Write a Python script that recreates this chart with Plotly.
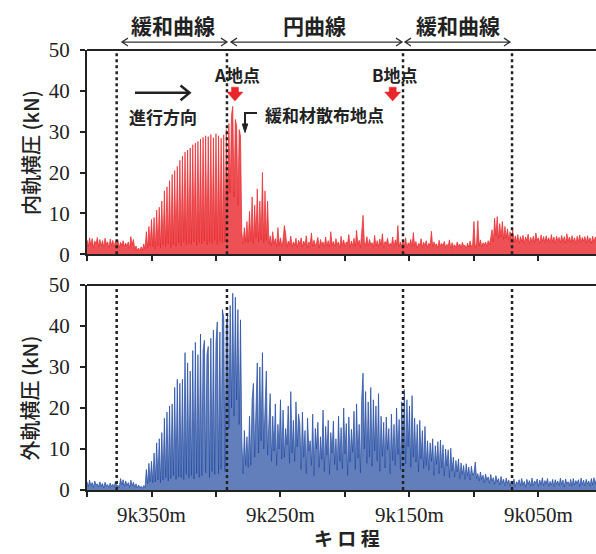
import plotly.graph_objects as go

# ---------------- data (kN), one sample per metre from 9k400m towards 9k005m ----------------
start_m = 9400

inner_rail_kN = [
    # 9k400 - 9k355 : quiet section
    3.5,1.8,4.0,2.2,3.8,1.6,3.2,2.5,4.1,1.9,3.6,2.0,3.3,1.7,3.9,2.4,3.0,1.5,3.7,2.1,
    3.4,1.8,3.1,2.6,3.5,1.6,2.9,2.2,3.3,1.9,2.7,2.0,3.0,1.4,4.3,2.3,3.6,1.2,2.0,0.9,
    1.5,0.8,1.8,1.0,2.5,1.3,
    # rise in transition curve
    5.5,1.5,6.8,2.0,8.5,1.8,9.0,
    1.2,10.8,2.0,11.5,1.5,13.0,
    2.2,15.5,1.8,16.5,2.5,
    18.0,1.6,19.5,2.4,20.5,1.9,21.5,2.8,
    23.0,2.0,24.0,3.0,25.0,2.2,25.5,2.6,
    26.0,2.4,26.8,3.0,27.2,2.1,27.6,2.8,
    28.2,2.5,28.6,3.2,29.0,2.3,28.8,3.0,29.3,2.6,28.5,3.4,29.5,2.4,29.0,3.1,28.4,2.7,29.2,3.0,
    # point A
    30.5,12.0,32.0,15.0,34.0,36.2,14.0,33.0,31.5,12.0,30.5,29.0,
    # after lubricant
    5.5,2.5,6.5,3.0,8.0,2.8,
    10.5,3.2,14.0,2.6,12.0,4.0,16.0,3.0,13.0,3.5,20.0,2.8,15.5,3.4,13.0,2.5,
    4.5,2.0,5.5,2.5,3.8,1.8,6.5,2.2,4.0,1.9,3.5,7.0,5.0,1.7,3.2,2.4,4.4,1.8,3.0,2.2,3.9,1.6,3.4,
    # circular curve
    2.5,4.0,1.8,3.2,2.2,4.5,1.6,3.0,2.4,5.2,1.9,3.4,2.1,2.8,4.1,1.5,3.6,2.3,3.0,1.8,
    4.2,2.0,3.3,1.7,5.5,2.2,3.1,1.9,3.8,2.5,2.9,1.6,4.4,2.1,3.5,1.8,3.0,2.6,4.8,1.7,
    3.2,2.0,3.9,1.8,5.8,2.3,3.4,1.6,6.0,9.5,3.0,2.2,4.3,1.9,3.6,2.4,2.8,1.7,4.6,2.0,
    3.3,1.8,3.7,2.2,5.0,1.6,3.1,2.5,3.9,1.9,2.7,2.1,4.2,1.7,3.5,2.3,7.0,1.8,3.0,2.0,
    # exit transition curve
    3.4,1.9,4.0,1.6,2.8,2.2,3.6,1.8,5.3,2.0,3.1,1.5,2.6,2.3,3.8,1.7,2.9,2.1,3.3,1.6,
    2.7,2.0,5.6,1.8,3.0,2.2,2.5,1.5,3.4,1.9,2.6,2.1,3.1,1.6,2.4,2.0,3.5,1.4,2.8,1.9,
    2.3,1.6,3.0,1.8,2.5,1.5,2.9,2.0,2.2,1.4,2.7,1.7,3.2,1.8,2.4,8.0,1.6,2.6,8.2,2.0,
    3.5,1.8,2.8,2.2,3.0,1.9,3.3,2.4,4.0,6.0,3.0,8.8,4.5,9.2,3.8,7.5,4.2,8.0,3.6,6.8,
    4.0,6.2,3.5,5.5,3.2,6.0,2.8,4.5,3.0,4.8,2.6,4.3,3.1,4.6,2.7,4.2,3.3,4.9,2.5,4.1,
    # tangent
    3.0,4.4,2.8,5.2,3.4,4.0,2.6,4.7,3.1,4.3,2.9,4.5,3.2,4.0,2.7,4.8,3.0,4.2,2.6,4.4,
    3.3,4.1,2.8,4.6,3.0,4.3,2.7,5.0,3.2,4.2,2.9,4.5,3.1,4.0,2.6,4.4,3.0,4.7,2.8,4.1,
    3.2,4.3,2.7,4.5,3.0,4.0,2.6,4.4,2.9,4.2,3.1,
]

outer_rail_kN = [
    2.0,0.8,2.4,1.0,1.8,0.6,2.2,1.2,1.5,0.7,2.0,0.9,1.6,0.5,1.9,1.1,1.3,0.6,1.7,0.8,
    1.4,0.7,2.0,1.0,1.2,0.5,2.8,1.3,2.5,0.9,2.2,1.1,1.8,0.6,2.4,1.0,1.9,0.7,1.5,0.5,
    1.2,0.6,0.9,0.4,1.1,0.6,
    5.0,1.5,6.5,2.0,7.0,1.8,9.0,
    2.0,11.5,2.5,12.5,1.8,14.0,
    2.4,17.5,3.0,19.0,2.2,
    20.5,2.8,21.0,3.5,25.0,2.6,27.0,3.2,
    26.0,3.0,27.0,2.5,33.5,3.8,31.0,2.9,
    29.0,3.5,34.0,2.7,36.0,4.0,33.0,3.1,
    38.0,3.5,34.0,36.5,4.2,33.0,35.0,3.0,37.0,4.5,39.0,3.8,36.0,41.0,4.0,38.5,5.0,44.0,42.0,4.5,
    40.0,42.5,15.0,45.0,20.0,48.0,18.0,47.0,22.0,44.0,16.0,41.5,
    12.0,4.0,14.5,6.0,13.0,5.5,
    18.0,6.0,22.0,26.0,8.0,20.0,31.0,9.0,30.0,12.0,33.5,10.0,21.0,29.0,8.5,19.0,
    23.5,7.0,18.0,9.5,21.0,6.0,16.0,10.0,22.0,7.5,19.5,8.0,15.0,11.0,20.5,6.5,24.0,9.0,17.0,7.0,21.5,10.5,18.5,
    16.0,5.0,19.0,8.0,14.5,4.0,17.5,9.5,12.0,6.0,18.5,3.5,15.0,10.0,16.5,5.5,13.0,7.5,19.5,4.5,
    15.5,8.5,17.0,3.8,14.0,9.0,16.8,6.2,12.5,4.8,18.0,7.0,15.2,5.2,20.0,8.8,16.2,3.6,17.8,6.8,
    14.8,9.2,19.2,5.0,21.0,7.8,16.0,4.2,22.5,28.5,10.0,24.0,6.5,21.5,8.0,25.0,5.8,22.0,9.5,20.5,
    7.0,23.5,4.6,18.0,8.2,16.5,5.4,17.8,9.8,15.0,4.0,18.5,7.2,16.0,6.0,20.0,8.6,17.2,5.0,21.5,
    9.0,24.5,6.4,22.0,10.5,20.5,5.6,23.0,8.0,17.5,6.8,16.0,4.4,17.0,7.6,14.5,5.2,15.5,6.0,12.0,
    4.8,11.5,7.0,12.5,3.6,10.8,6.2,11.8,4.0,12.2,5.4,11.0,3.4,10.0,5.8,9.8,3.0,10.2,4.6,8.0,
    3.2,7.2,4.4,7.6,2.8,6.6,3.8,6.0,2.6,6.4,3.4,5.6,2.4,5.8,3.6,4.2,6.8,2.8,4.0,2.2,
    4.4,2.6,3.6,1.8,3.9,2.4,3.2,1.6,3.8,2.2,3.0,1.4,3.5,2.0,2.8,1.2,3.3,1.8,2.6,1.0,
    2.9,1.6,2.4,0.9,2.2,1.3,2.7,0.8,2.0,1.5,2.5,1.0,2.8,1.2,2.1,0.7,2.6,1.4,2.3,0.9,
    2.9,1.1,2.2,1.6,2.7,0.8,2.4,1.3,3.0,1.0,2.3,1.5,2.8,0.9,2.1,1.2,2.6,0.8,2.5,1.4,
    2.2,1.0,2.9,1.3,2.4,0.7,2.7,1.5,2.0,1.1,2.6,0.9,2.8,1.2,2.3,1.6,2.5,0.8,2.9,1.3,
    2.4,1.0,2.6,1.4,2.2,0.9,2.8,1.2,3.0,1.5,2.7,
]

distance_in_m = [start_m - i for i in range(len(inner_rail_kN))]
distance_out_m = [start_m - i for i in range(len(outer_rail_kN))]

tick_positions = [9400, 9350, 9300, 9250, 9200, 9150, 9100, 9050]
tick_labels = ["", "9k350m", "", "9k250m", "", "9k150m", "", "9k050m"]
y_ticks = [0, 10, 20, 30, 40, 50]

boundaries_m = [9377, 9291.5, 9155, 9070.5]      # dotted section boundaries
section_names = ["緩和曲線", "円曲線", "緩和曲線"]
section_centers = [9333.3, 9223.3, 9112.4]
section_spans = [(9372.9, 9291.5), (9288.4, 9155.8), (9153.5, 9072.1)]
marker_points = [("A地点", 9285.3), ("B地点", 9163.0)]

RED = "#e8262b"
BLUE = "#1f48a0"
SERIF = "Liberation Serif"
CJK = "Noto Sans CJK JP"
INK = "#222"

fig = go.Figure()
fig.add_trace(go.Scatter(x=distance_in_m, y=inner_rail_kN, mode="lines",
                         line=dict(color=RED, width=0.7), fill="tozeroy",
                         fillcolor="rgba(232,38,43,0.8)", xaxis="x2", yaxis="y2",
                         showlegend=False, hoverinfo="skip"))
fig.add_trace(go.Scatter(x=distance_out_m, y=outer_rail_kN, mode="lines",
                         line=dict(color=BLUE, width=0.7), fill="tozeroy",
                         fillcolor="rgba(31,72,160,0.7)", xaxis="x", yaxis="y",
                         showlegend=False, hoverinfo="skip"))

xcommon = dict(range=[9400, 9005.4], tickmode="array", tickvals=tick_positions,
               ticks="outside", ticklen=5, tickwidth=2, tickcolor=INK,
               showline=True, linewidth=2, linecolor=INK, showgrid=False,
               zeroline=False, automargin=False,
               tickfont=dict(family=SERIF, size=21, color=INK))
ycommon = dict(range=[0, 50], tickmode="array", tickvals=y_ticks,
               ticks="outside", ticklen=5, tickwidth=2, tickcolor=INK,
               showline=True, linewidth=2, linecolor=INK, showgrid=False,
               zeroline=False, automargin=False,
               tickfont=dict(family=SERIF, size=21, color=INK),
               ticklabelstandoff=6)

fig.update_layout(
    width=596, height=554, autosize=False,
    margin=dict(l=87, r=0, t=50, b=64, autoexpand=False),
    paper_bgcolor="white", plot_bgcolor="white",
    xaxis=dict(**xcommon, anchor="y", ticktext=tick_labels, ticklabelstandoff=0),
    yaxis=dict(**ycommon, domain=[0, 0.466], anchor="x"),
    xaxis2=dict(**xcommon, anchor="y2", showticklabels=False, matches="x"),
    yaxis2=dict(**ycommon, domain=[0.536, 1], anchor="x2"),
)

shapes = []
for yr in ["y", "y2"]:
    xr = "x" if yr == "y" else "x2"
    shapes.append(dict(type="line", xref=xr + " domain", yref=yr + " domain",
                       x0=0, x1=1.02, y0=1, y1=1, line=dict(color=INK, width=2)))
    for b in boundaries_m:
        shapes.append(dict(type="line", xref=xr, yref=yr + " domain", x0=b, x1=b,
                           y0=0, y1=1, line=dict(color=INK, width=2.5, dash="dot"),
                           layer="above"))

# double arrows above the chart
ya, dy, dx = 1.018, 0.009, 4.65
for (a, b) in section_spans:
    path = (f"M {a},{ya} L {b},{ya} "
            f"M {a-dx},{ya+dy} L {a},{ya} L {a-dx},{ya-dy} "
            f"M {b+dx},{ya+dy} L {b},{ya} L {b+dx},{ya-dy}")
    shapes.append(dict(type="path", xref="x2", yref="paper", path=path,
                       line=dict(color="#333", width=1.3)))

# red block arrows marking points A and B
for _, c in marker_points:
    sh, hh = 2.7, 6.2
    path = (f"M {c+sh},40.9 L {c-sh},40.9 L {c-sh},39.7 L {c-hh},39.7 "
            f"L {c},37.5 L {c+hh},39.7 L {c+sh},39.7 Z")
    shapes.append(dict(type="path", xref="x2", yref="y2", path=path,
                       line=dict(color=RED, width=0.5), fillcolor=RED, layer="above"))

# direction arrow 進行方向
shapes.append(dict(type="path", xref="x2", yref="y2",
                   path="M 9362.8,39.5 L 9320.5,39.5 M 9327.5,41.3 L 9320.5,39.5 L 9327.5,37.7",
                   line=dict(color=INK, width=2.5)))
# bracket arrow to 緩和材散布地点
shapes.append(dict(type="path", xref="x2", yref="y2",
                   path="M 9268.2,34.6 L 9277.5,34.6 L 9277.5,31.6",
                   line=dict(color=INK, width=2)))
shapes.append(dict(type="path", xref="x2", yref="y2",
                   path="M 9279.6,31.9 L 9275.4,31.9 L 9277.5,29.8 Z",
                   line=dict(color=INK, width=1), fillcolor=INK))
fig.update_layout(shapes=shapes)

ann = []
for name, c in zip(section_names, section_centers):
    ann.append(dict(x=c, y=1.057, xref="x2", yref="paper", text=name, showarrow=False,
                    xanchor="center", yanchor="middle",
                    font=dict(family=CJK, size=21, color=INK, weight="bold")))
for lbl, c in [("A地点", 9283.7), ("B地点", 9161.2)]:
    ann.append(dict(x=c, y=43.9, xref="x2", yref="y2", text=lbl, showarrow=False,
                    xanchor="center", yanchor="middle",
                    font=dict(family=CJK, size=17, color=INK, weight="bold")))
ann.append(dict(x=9341.1, y=33.6, xref="x2", yref="y2", text="進行方向", showarrow=False,
                xanchor="center", yanchor="middle",
                font=dict(family=CJK, size=17, color=INK, weight="bold")))
ann.append(dict(x=9215.5, y=34.1, xref="x2", yref="y2", text="緩和材散布地点",
                showarrow=False, xanchor="center", yanchor="middle",
                font=dict(family=CJK, size=17, color=INK, weight="bold")))
ann.append(dict(x=-0.112, y=0.768, xref="paper", yref="paper", textangle=-90,
                text="内軌横圧 (kN)", showarrow=False, xanchor="center", yanchor="middle",
                font=dict(family=CJK, size=20, color=INK, weight=500)))
ann.append(dict(x=-0.112, y=0.21, xref="paper", yref="paper", textangle=-90,
                text="外軌横圧 (kN)", showarrow=False, xanchor="center", yanchor="middle",
                font=dict(family=CJK, size=20, color=INK, weight=500)))
ann.append(dict(x=0.51, y=-0.107, xref="paper", yref="paper", text="キ ロ 程",
                showarrow=False, xanchor="center", yanchor="middle",
                font=dict(family=CJK, size=19, color=INK, weight="bold")))
fig.update_layout(annotations=ann)

# remove the default page margin / scrollbars so the 596x554 figure fills the window
page_fix = ("document.body.style.margin='0';"
            "document.documentElement.style.overflow='hidden';"
            "document.body.style.overflow='hidden';")
fig.write_html("out.html", post_script=page_fix, config={"displayModeBar": False})
